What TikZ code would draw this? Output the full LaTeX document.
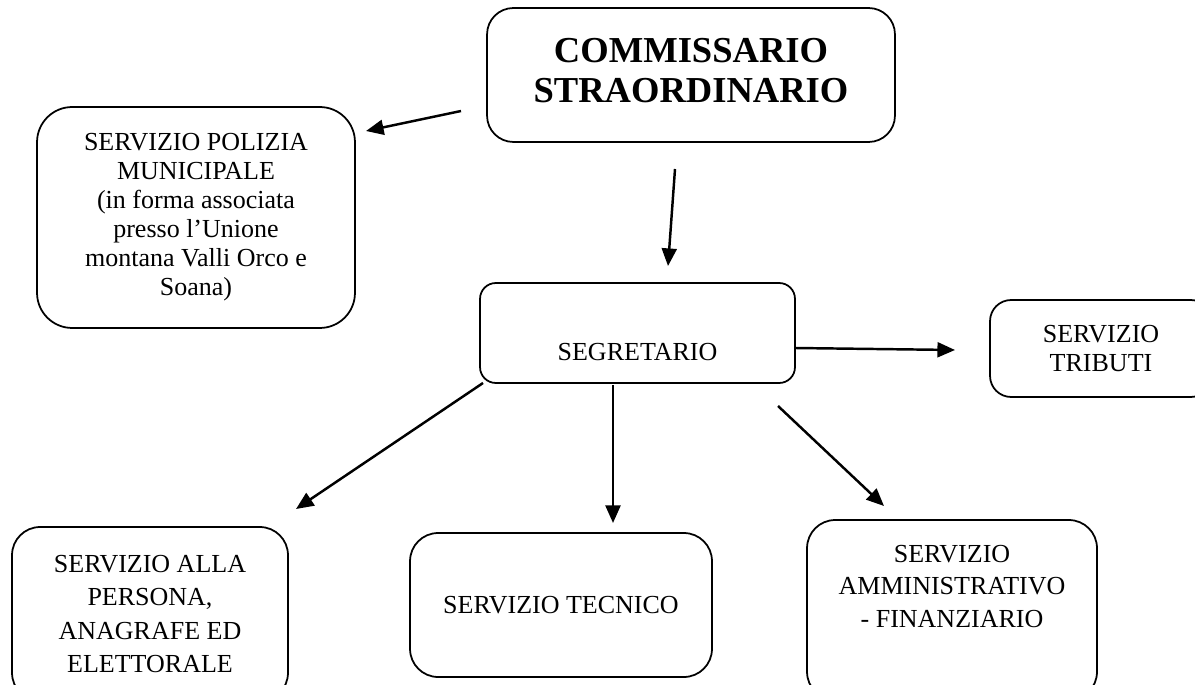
\documentclass[tikz,border=0pt]{standalone}
\usepackage{fontspec}
\setmainfont{Liberation Serif}
\usetikzlibrary{positioning,arrows.meta}

\begin{document}
\begin{tikzpicture}[x=0.02cm,y=-0.02cm,
		box/.style={draw=black,line width=1pt,rounded corners=#1,inner sep=0pt,align=center,
			font=\fontsize{14.8}{16.5}\selectfont},
		box/.default=14pt,
		freccia/.style={-{Triangle[length=10pt,width=8.5pt]},line width=1.4pt}]
	\useasboundingbox (0,0) rectangle (1195,685);

	\node[box=15pt,minimum width=8.16cm,minimum height=2.68cm,
		label={[align=center,yshift=2.5pt,font=\fontsize{20.8}{22.8}\selectfont\bfseries]center:COMMISSARIO\\STRAORDINARIO}] (comm) at (691,75) {};
	\node[box=20pt,minimum width=6.36cm,minimum height=4.42cm] (pol) at (196,217.5)
		{SERVIZIO POLIZIA\\MUNICIPALE\\(in forma associata\\presso l’Unione\\montana Valli Orco e\\Soana)};
	\node[box=9pt,minimum width=6.3cm,minimum height=2cm,
		label={[yshift=-10.8pt,font=\fontsize{14.8}{16.5}\selectfont]center:SEGRETARIO}] (seg) at (637.5,333) {};
	\node[box=12pt,minimum width=4.44cm,minimum height=1.94cm,
		font=\fontsize{14.8}{17}\selectfont] (trib) at (1101,348.5) {SERVIZIO\\TRIBUTI};
	\node[box=16pt,minimum width=5.52cm,minimum height=3.48cm,
		font=\fontsize{14.8}{19}\selectfont] (pers) at (150,614) {SERVIZIO ALLA\\PERSONA,\\ANAGRAFE ED\\ELETTORALE};
	\node[box=16pt,minimum width=6.04cm,minimum height=2.88cm] (tec) at (561,605) {SERVIZIO TECNICO};
	\node[box=16pt,minimum width=5.8cm,minimum height=3.6cm,
		label={[align=center,yshift=13.6pt,font=\fontsize{14.8}{18.5}\selectfont]center:SERVIZIO\\AMMINISTRATIVO\\- FINANZIARIO}] (amm) at (952,610) {};

	\coordinate (comm-out1) at (461,111);
	\coordinate (pol-in) at (366,131);
	\coordinate (comm-out2) at (675,169);
	\coordinate (seg-in) at (668,266);
	\coordinate (seg-out1) at (795,348);
	\coordinate (trib-in) at (955,350);
	\coordinate (seg-out2) at (483,383);
	\coordinate (pers-in) at (296,509);
	\coordinate (seg-out3) at (613,385);
	\coordinate (tec-in) at (613,523);
	\coordinate (seg-out4) at (778,406);
	\coordinate (amm-in) at (884,506);

	\draw[freccia] (comm-out1)--(pol-in);
	\draw[freccia] (comm-out2)--(seg-in);
	\draw[freccia] (seg-out1)--(trib-in);
	\draw[freccia] (seg-out2)--(pers-in);
	\draw[freccia] (seg-out3)--(tec-in);
	\draw[freccia] (seg-out4)--(amm-in);

\end{tikzpicture}
\end{document}
